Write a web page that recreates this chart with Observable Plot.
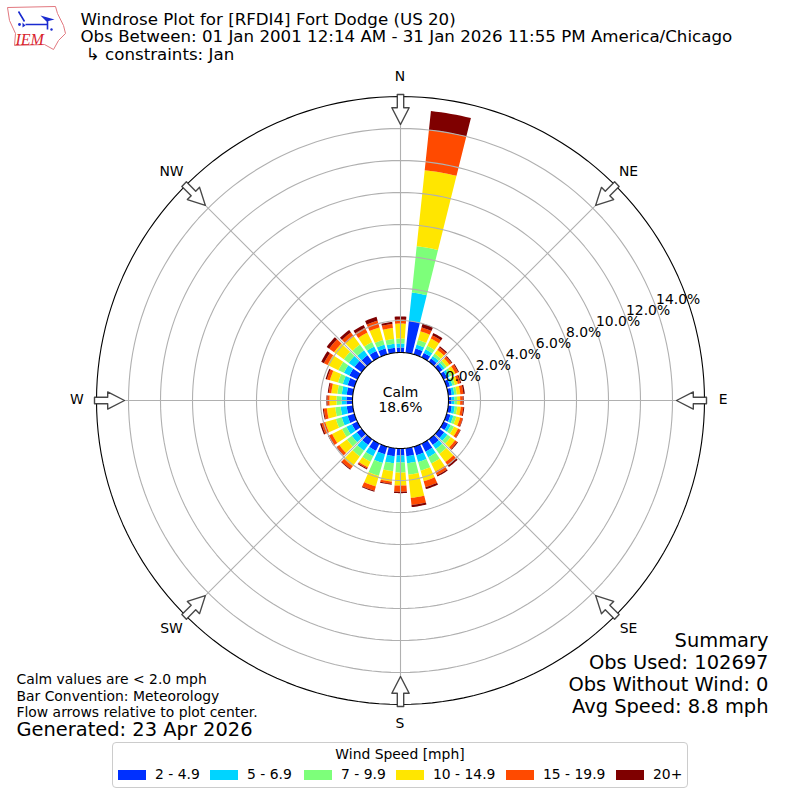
<!DOCTYPE html>
<html>
<head>
<meta charset="utf-8">
<script src="https://cdn.jsdelivr.net/npm/d3@7"></script>
<script src="https://cdn.jsdelivr.net/npm/@observablehq/plot@0.6"></script>
<style>
html,body{margin:0;padding:0;background:#fff;width:800px;height:800px;overflow:hidden;font-family:"DejaVu Sans",sans-serif;}
#page{position:relative;width:800px;height:800px;}
#page svg{display:block;}
#legend{position:absolute;left:112px;top:742px;width:574px;height:44px;border:1px solid #ccc;border-radius:4px;color:#000;font-size:13.9px;}
#legend .t{position:absolute;left:0;right:0;top:3px;text-align:center;}
#legend .s{position:absolute;top:27px;width:28px;height:10px;}
#legend .l{position:absolute;top:23px;white-space:nowrap;}
</style>
</head>
<body>
<div id="page"></div>
<script>
const directions = d3.range(0, 360, 10);
const speedClasses = ["2 - 4.9", "5 - 6.9", "7 - 9.9", "10 - 14.9", "15 - 19.9", "20+"];
const speedColors = ["#0030ff", "#00d4ff", "#7dff7a", "#ffe600", "#ff4a00", "#7f0000"];
const pct2to49 = [.31,2.0,.38,.31,.25,.25,.25,.22,.22,.19,.22,.25,.31,.38,.44,.56,.56,.5,.44,.5,.5,.5,.44,.38,.38,.44,.38,.38,.38,.44,.56,.56,.5,.44,.38,.31];
const pct5to69 = [.25,1.78,.25,.25,.19,.16,.16,.16,.16,.19,.19,.19,.19,.25,.31,.38,.44,.44,.44,.44,.56,.38,.44,.38,.38,.38,.38,.31,.31,.31,.38,.44,.38,.31,.25,.25];
const pct7to99 = [.31,2.91,.31,.25,.19,.16,.19,.16,.16,.16,.16,.19,.22,.25,.38,.44,.56,.72,.63,.5,.84,.38,.44,.38,.31,.38,.34,.31,.28,.31,.38,.38,.44,.31,.31,.31];
const pct10to149 = [.94,4.78,.56,.5,.28,.22,.22,.19,.22,.19,.22,.25,.28,.34,.63,.56,.69,1.47,.81,.66,.69,.38,.75,.59,.69,.69,.53,.44,.38,.53,.75,.75,.63,.66,.81,.69];
const pct15to199 = [.25,2.53,.25,.22,.19,.16,.19,.16,.19,.16,.16,.16,.16,.16,.25,.25,.38,.44,.38,.13,.28,.09,.22,.19,.22,.25,.19,.13,.16,.19,.25,.38,.31,.34,.44,.25];
const pct20plus = [.19,1.19,.25,.16,.09,.06,.06,.06,.09,.06,.06,.03,.03,.06,.13,.09,.13,.13,.09,.06,.06,.06,.06,.03,.06,.09,.06,.06,.06,.09,.19,.19,.19,.19,.25,.13];
const speedSeries = [pct2to49, pct5to69, pct7to99, pct10to149, pct15to199, pct20plus];
const radialTicks = [0, 2, 4, 6, 8, 10, 12, 14];
const compass = ["N", "NE", "E", "SE", "S", "SW", "W", "NW"];
const compassAngles = [0, 45, 90, 135, 180, 225, 270, 315];
const titleText = "Windrose Plot for [RFDI4] Fort Dodge (US 20)\nObs Between: 01 Jan 2001 12:14 AM - 31 Jan 2026 11:55 PM America/Chicago\n \u21b3 constraints: Jan";
const notesText = "Calm values are < 2.0 mph\nBar Convention: Meteorology\nFlow arrows relative to plot center.";
const generatedText = "Generated: 23 Apr 2026";
const summaryText = "Summary\nObs Used: 102697\nObs Without Wind: 0\nAvg Speed: 8.8 mph";
const calmText = "Calm\n18.6%";

const font = "DejaVu Sans";
const hole = 3;          // radial offset of the 0% ring, in percent units
const rimPct = 16;       // outer frame, in percent units
const rad = d => d * Math.PI / 180;
const px = (pct, deg) => (pct + hole) * Math.sin(rad(deg));
const py = (pct, deg) => (pct + hole) * Math.cos(rad(deg));

// Bars
const barPts = [];
directions.forEach((dir, i) => {
  let base = 0;
  speedSeries.forEach((vals, k) => {
    const top = base + vals[i];
    const id = dir + "-" + k;
    const arc = d3.range(-4, 4.01, 1);
    for (const a of arc) barPts.push({id, cls: speedClasses[k], x: px(top, dir + a), y: py(top, dir + a)});
    for (const a of arc.slice().reverse()) barPts.push({id, cls: speedClasses[k], x: px(base, dir + a), y: py(base, dir + a)});
    base = top;
  });
});

// Rings
const ringPts = pct => d3.range(0, 360, 2).map(a => ({pct, x: px(pct, a), y: py(pct, a)}));
const ringData = radialTicks.slice(1).flatMap(ringPts);

// Compass arrows, pointing inward; lengths are in percent units of the same scale
const arrowShape = [[19.125,-.2],[19.125,.2],[18.3,.2],[18.3,.54],[17.25,0],[18.3,-.54],[18.3,-.2]];
const arrowPts = compassAngles.flatMap(deg => arrowShape.map(([a, p]) => ({
  deg,
  x: a * Math.sin(rad(deg)) + p * Math.cos(rad(deg)),
  y: a * Math.cos(rad(deg)) - p * Math.sin(rad(deg))
})));

const chart = Plot.plot({
  width: 800, height: 740,
  margin: 0,
  style: {fontFamily: font, background: "#fff", overflow: "visible"},
  x: {domain: [-25, 25], range: [0, 800], axis: null},
  y: {domain: [-25, 25], range: [800, 0], axis: null},
  color: {domain: speedClasses, range: speedColors},
  marks: [
    Plot.line(barPts, {x: "x", y: "y", z: "id", fill: "cls", stroke: "none", curve: "linear-closed"}),
    Plot.line(ringData, {x: "x", y: "y", z: "pct", stroke: "#b0b0b0", strokeWidth: 1.1, curve: "linear-closed"}),
    Plot.link(compassAngles, {x1: d => px(0, d), y1: d => py(0, d), x2: d => px(rimPct, d), y2: d => py(rimPct, d), stroke: "#b0b0b0", strokeWidth: 1.1}),
    Plot.line(ringPts(0), {x: "x", y: "y", fill: "#fff", stroke: "#000", strokeWidth: 1.1, curve: "linear-closed"}),
    Plot.line(ringPts(rimPct), {x: "x", y: "y", fill: "none", stroke: "#000", strokeWidth: 1.1, curve: "linear-closed"}),
    Plot.line(arrowPts, {x: "x", y: "y", z: "deg", fill: "#fff", stroke: "#333", strokeWidth: 1.4, strokeOpacity: 0.9, curve: "linear-closed"}),
    Plot.text(compass, {x: (d, i) => px(17.2, compassAngles[i]), y: (d, i) => py(17.2, compassAngles[i]), dx: -0.5, dy: -0.5, text: d => d, fontSize: 13.9, fill: "#000", fontFamily: font}),
    Plot.text(radialTicks, {x: d => px(d, 70), y: d => py(d, 70), dx: 0, dy: -3, text: d => d.toFixed(1) + "%", fontSize: 13.9, textAnchor: "start", lineAnchor: "bottom", fill: "#000", fontFamily: font}),
    Plot.text([calmText], {x: () => 0, y: () => 0, dy: -1, text: d => d, fontSize: 13.9, lineHeight: 1.1, fill: "#000", fontFamily: font}),
    Plot.image([0], {src: "data:image/svg+xml," + encodeURIComponent(`<svg xmlns="http://www.w3.org/2000/svg" viewBox="0 0 70 52" width="70" height="52"><path d="M7 7 L55 6 L57 13 L63 25 L65 33 L58 40 L53 49 L44 44 L14 45 L15 33 L9 20 Z" fill="#fff" stroke="#e2787f" stroke-width="1"/><path d="M25 24 H47 M47 20 V29 M18 11 L24 21" stroke="#1a2bd0" stroke-width="1.6" fill="none"/><path d="M40 15 L54 19 L46 21 Z M22 22 l3 3 l-3 2 Z" fill="#1a2bd0"/><circle cx="19" cy="24" r="1.4" fill="#1a2bd0"/><circle cx="51" cy="29" r="1.2" fill="#1a2bd0"/><text x="15" y="44" font-family="Liberation Serif" font-style="italic" font-size="16" fill="#d8222c">IEM</text></svg>`), frameAnchor: "top-left", dx: 35, dy: 26, width: 70, height: 52}),
    Plot.text([titleText], {frameAnchor: "top-left", dx: 80, dy: 11.5, text: d => d, textAnchor: "start", lineAnchor: "top", fontSize: 16.67, lineHeight: 1.055, fill: "#000", fontFamily: font}),
    Plot.text([notesText], {frameAnchor: "top-left", dx: 16, dy: 672.5, text: d => d, textAnchor: "start", lineAnchor: "top", fontSize: 13.9, lineHeight: 1.16, fill: "#000", fontFamily: font}),
    Plot.text([generatedText], {frameAnchor: "top-left", dx: 16, dy: 722, text: d => d, textAnchor: "start", lineAnchor: "top", fontSize: 19.44, fill: "#000", fontFamily: font}),
    Plot.text([summaryText], {frameAnchor: "top-left", dx: 768, dy: 631, text: d => d, textAnchor: "end", lineAnchor: "top", fontSize: 19.44, lineHeight: 1.13, fill: "#000", fontFamily: font})
  ]
});
const page = document.getElementById("page");
page.append(chart);

// Legend below the plot
const legend = document.createElement("div");
legend.id = "legend";
const t = document.createElement("div");
t.className = "t"; t.textContent = "Wind Speed [mph]";
legend.append(t);
const swatchLeft = [5, 97, 191, 283, 393, 503];
speedClasses.forEach((c, i) => {
  const s = document.createElement("div");
  s.className = "s"; s.style.left = swatchLeft[i] + "px"; s.style.background = speedColors[i];
  const l = document.createElement("div");
  l.className = "l"; l.style.left = (swatchLeft[i] + 37) + "px"; l.textContent = c;
  legend.append(s, l);
});
page.append(legend);
</script>
</body>
</html>
